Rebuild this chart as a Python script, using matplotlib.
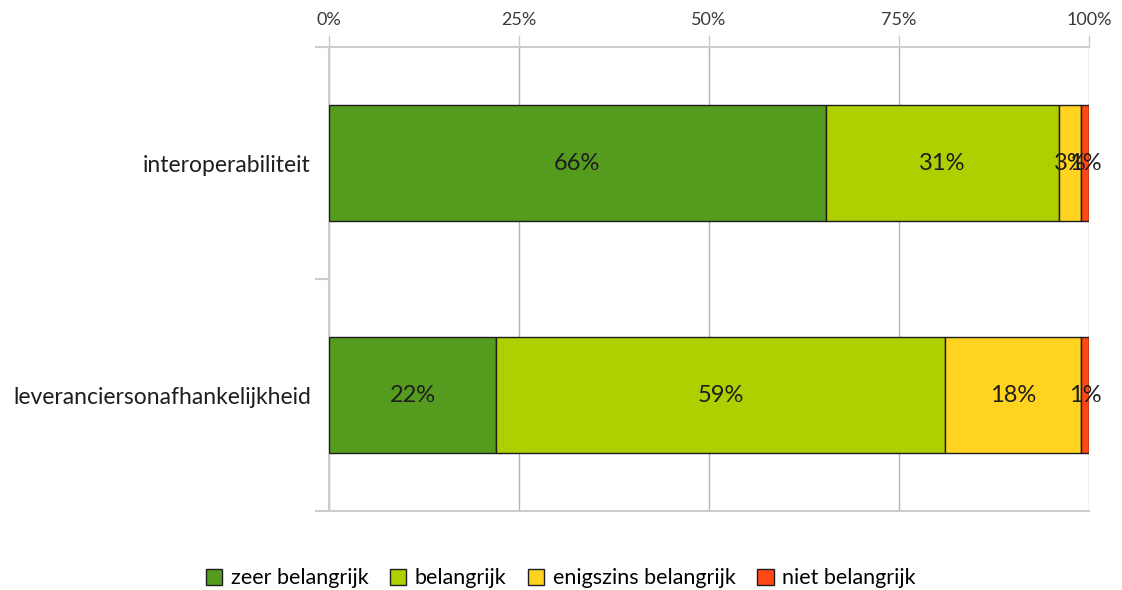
import matplotlib.pyplot as plt
import numpy as np

categories = ["interoperabiliteit", "leveranciersonafhankelijkheid"]
series = ["zeer belangrijk", "belangrijk", "enigszins belangrijk", "niet belangrijk"]
values = [[66, 31, 3, 1],
          [22, 59, 18, 1]]
colors = ["#559B1E", "#B0CF00", "#FFD320", "#FF4814"]
xticks = [0, 25, 50, 75, 100]

plt.rcParams['font.family'] = ['Lato', 'DejaVu Sans']
grid_c = "#cccccc"

fig = plt.figure(figsize=(11.22, 5.9), dpi=100)
ax = fig.add_axes([0.2932, 0.1339, 0.6774, 0.7864])

vals = np.array(values, dtype=float)
shares = vals / vals.sum(axis=1, keepdims=True) * 100
y = np.arange(len(categories))

left = np.zeros(len(categories))
for j, name in enumerate(series):
    ax.barh(y, shares[:, j], left=left, height=0.5, color=colors[j],
            edgecolor="#1e1e1e", linewidth=1.0, label=name, zorder=3)
    for i in range(len(categories)):
        ax.text(left[i] + shares[i, j] / 2, y[i], f"{values[i][j]}%",
                ha="center", va="center", fontsize=17, color="#1e1e1e", zorder=4)
    left += shares[:, j]

ax.set_xlim(0, 100)
ax.set_ylim(1.5, -0.5)
ax.xaxis.tick_top()
ax.set_xticks(xticks)
ax.set_xticklabels([f"{t}%" for t in xticks], fontsize=13, color="#3a3a3a")
ax.tick_params(axis="x", direction="out", length=9, width=1, color=grid_c, pad=5)
ax.grid(axis="x", color="#b4b4b4", linewidth=1, zorder=0)

ax.set_yticks([-0.5, 0.5, 1.5])
ax.set_yticklabels([])
ax.set_yticks(y, minor=True)
ax.set_yticklabels(categories, minor=True, fontsize=16.5, color="#1e1e1e")
ax.tick_params(axis="y", which="major", direction="out", length=10, width=1.5, color=grid_c)
ax.tick_params(axis="y", which="minor", length=0, pad=13)

for s in ["left", "top", "bottom"]:
    ax.spines[s].set_color(grid_c)
    ax.spines[s].set_linewidth(1.5)
ax.spines["right"].set_visible(False)

fig.legend(loc="lower center", bbox_to_anchor=(0.5, -0.03), ncol=4, frameon=False,
           fontsize=15.5, handlelength=0.75, handleheight=0.75, handletextpad=0.4,
           columnspacing=1.0)

fig.savefig("out.png", dpi=100)
